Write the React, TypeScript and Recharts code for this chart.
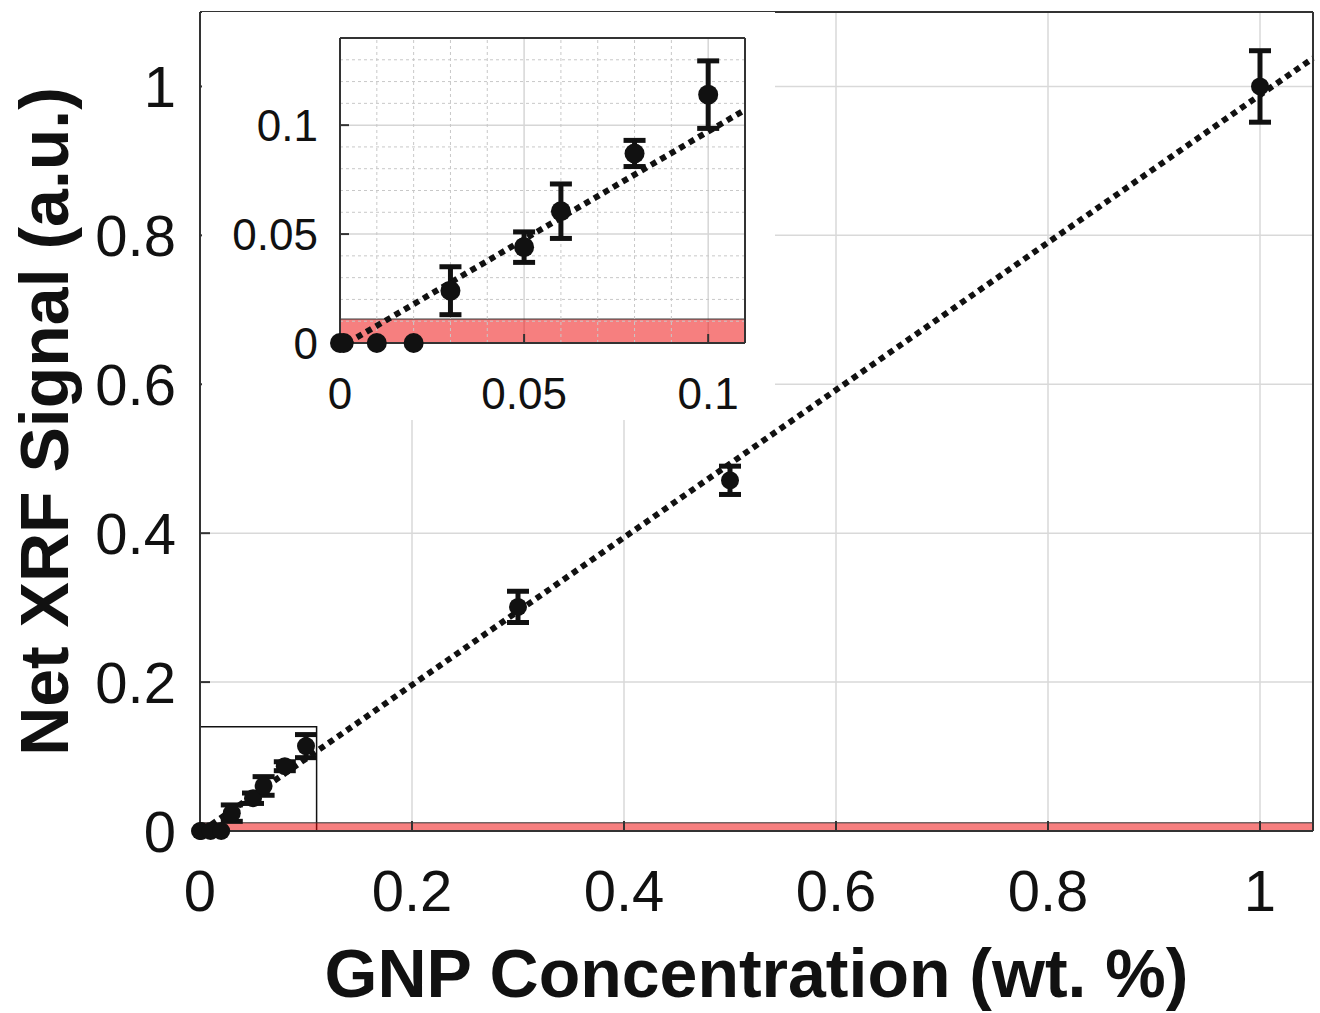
import { ComposedChart, Scatter, XAxis, YAxis, CartesianGrid, ErrorBar, ReferenceArea, ReferenceLine } from "recharts";

// measurements above the detection limit
const concentration = [0.03, 0.05, 0.06, 0.08, 0.1, 0.3, 0.5, 1.0];
const signal = [0.024, 0.044, 0.0605, 0.087, 0.114, 0.301, 0.471, 1.0];
const signalErr = [0.011, 0.007, 0.0125, 0.006, 0.0155, 0.021, 0.019, 0.048];

// samples that read as zero
const zeroConc = [0, 0.001, 0.01, 0.02];
const zeroSignal = [0, 0, 0, 0];

// linear fit
const fitX = [0.002, 1.05];
const fitY = [0, 1.038];
const insetFitX = [0.002, 0.11];
const insetFitY = [0, 0.107];

const lod = 0.011;

const mainXTicks = [0, 0.2, 0.4, 0.6, 0.8, 1];
const mainYTicks = [0, 0.2, 0.4, 0.6, 0.8, 1];
const insetXTicks = [0, 0.05, 0.1];
const insetYTicks = [0, 0.05, 0.1];
const insetMinorX = [0.01, 0.02, 0.03, 0.04, 0.06, 0.07, 0.08, 0.09];
const insetMinorY = [0.01, 0.02, 0.03, 0.04, 0.06, 0.07, 0.08, 0.09, 0.11, 0.12, 0.13];

const FONT = "'Liberation Sans', Arial, Helvetica, sans-serif";
const INK = "#111";
const FRAME = "#333";

const measured = concentration.map((x, i) => ({ x, y: signal[i], err: signalErr[i] }));
const zeros = zeroConc.map((x, i) => ({ x, y: zeroSignal[i] }));
const fit = fitX.map((x, i) => ({ x, y: fitY[i] }));
const insetFit = insetFitX.map((x, i) => ({ x, y: insetFitY[i] }));

const dot = (r: number) => (p: any) => <circle cx={p.cx} cy={p.cy} r={r} fill={INK} />;
const noDot = () => <g />;
const fitStyle = { stroke: INK, strokeWidth: 6, strokeDasharray: "6 5" };

function XTitle(props: any) {
  const vb = props.viewBox || { x: 200, y: 831, width: 1113 };
  return (
    <text x={vb.x + vb.width / 2} y={vb.y + 166} textAnchor="middle" fontFamily={FONT} fontWeight="bold" fontSize={68} fill={INK}>
      GNP Concentration (wt. %)
    </text>
  );
}

function YTitle(props: any) {
  const vb = props.viewBox || { x: 0, y: 12, height: 819 };
  const cx = vb.x + 68;
  const cy = vb.y + vb.height / 2;
  return (
    <text transform={`translate(${cx}, ${cy}) rotate(-90)`} textAnchor="middle" fontFamily={FONT} fontWeight="bold" fontSize={68} fill={INK}>
      Net XRF Signal (a.u.)
    </text>
  );
}

function Inset() {
  const tickStyle = { fontSize: 44, fill: INK, fontFamily: FONT };
  return (
    <div style={{ position: "absolute", left: 202, top: 12, width: 573, height: 408, background: "#fff" }}>
      <ComposedChart width={573} height={408} margin={{ top: 26, right: 30, bottom: 0, left: 0 }}>
        {insetMinorX.map(v => (
          <ReferenceLine key={"mx" + v} x={v} stroke="#c8c8c8" strokeDasharray="3 3" strokeWidth={1} />
        ))}
        {insetMinorY.map(v => (
          <ReferenceLine key={"my" + v} y={v} stroke="#c8c8c8" strokeDasharray="3 3" strokeWidth={1} />
        ))}
        <CartesianGrid stroke="#d6d6d6" strokeWidth={1.5} />
        <ReferenceArea x1={0} x2={0.11} y1={0} y2={lod} fill="#ee0000" fillOpacity={0.5} stroke={FRAME} strokeWidth={1} />
        <XAxis type="number" dataKey="x" domain={[0, 0.11]} ticks={insetXTicks} interval={0}
          height={77} tickSize={-9} tickMargin={44} tick={tickStyle} stroke={FRAME} strokeWidth={2} />
        <XAxis xAxisId="top" orientation="top" mirror type="number" domain={[0, 0.11]} ticks={insetXTicks} interval={0}
          tick={false} tickSize={9} stroke={FRAME} strokeWidth={2} />
        <YAxis type="number" dataKey="y" domain={[0, 0.14]} ticks={insetYTicks} interval={0}
          width={138} tickSize={-9} tickMargin={31} tick={tickStyle} stroke={FRAME} strokeWidth={2} />
        <YAxis yAxisId="right" orientation="right" mirror type="number" domain={[0, 0.14]} ticks={insetYTicks} interval={0}
          tick={false} tickSize={9} stroke={FRAME} strokeWidth={2} />
        <Scatter data={insetFit} shape={noDot} line={fitStyle} isAnimationActive={false} />
        <Scatter data={zeros} shape={dot(10)} isAnimationActive={false} />
        <Scatter data={measured.filter(d => d.x <= 0.11)} shape={dot(10)} isAnimationActive={false}>
          <ErrorBar dataKey="err" direction="y" width={11} strokeWidth={5} stroke={INK} isAnimationActive={false} />
        </Scatter>
      </ComposedChart>
    </div>
  );
}

export default function App() {
  const tickStyle = { fontSize: 58, fill: INK, fontFamily: FONT };
  return (
    <div style={{ position: "absolute", left: 0, top: 0, width: 1320, height: 1013, background: "#fff" }}>
      <ComposedChart width={1320} height={1013} margin={{ top: 12, right: 7, bottom: 0, left: 0 }}>
        <CartesianGrid stroke="#d9d9d9" strokeWidth={1.5} />
        <XAxis type="number" dataKey="x" domain={[0, 1.05]} ticks={mainXTicks} interval={0}
          height={182} tickSize={-10} tickMargin={49} tick={tickStyle} stroke={FRAME} strokeWidth={2} label={<XTitle />} />
        <XAxis xAxisId="top" orientation="top" mirror type="number" domain={[0, 1.05]} ticks={mainXTicks} interval={0}
          tick={false} tickSize={10} stroke={FRAME} strokeWidth={2} />
        <YAxis type="number" dataKey="y" domain={[0, 1.1]} ticks={mainYTicks} interval={0}
          width={200} tickSize={-10} tickMargin={34} tick={tickStyle} stroke={FRAME} strokeWidth={2} label={<YTitle />} />
        <YAxis yAxisId="right" orientation="right" mirror type="number" domain={[0, 1.1]} ticks={mainYTicks} interval={0}
          tick={false} tickSize={10} stroke={FRAME} strokeWidth={2} />
        <ReferenceArea x1={0} x2={0.11} y1={0} y2={0.14} fill="none" stroke={INK} strokeWidth={1.5} />
        <Scatter data={fit} shape={noDot} line={fitStyle} isAnimationActive={false} />
        <Scatter data={zeros} shape={dot(9)} isAnimationActive={false} />
        <Scatter data={measured} shape={dot(9)} isAnimationActive={false}>
          <ErrorBar dataKey="err" direction="y" width={11} strokeWidth={5} stroke={INK} isAnimationActive={false} />
        </Scatter>
        <ReferenceArea x1={0} x2={1.05} y1={0} y2={lod} fill="#ee0000" fillOpacity={0.5} stroke={FRAME} strokeWidth={1} />
      </ComposedChart>
      <Inset />
    </div>
  );
}
